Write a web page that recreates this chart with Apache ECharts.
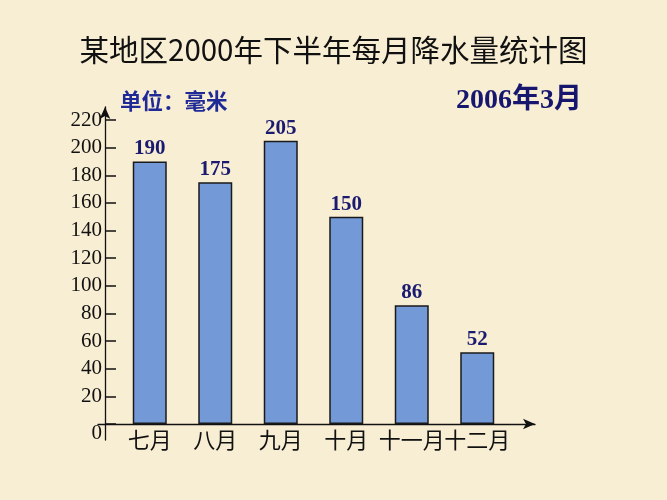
<!DOCTYPE html>
<html>
<head>
<meta charset="utf-8">
<script src="https://cdn.jsdelivr.net/npm/echarts@6/dist/echarts.min.js"></script>
<style>
html,body{margin:0;padding:0;background:#f8eed4;}
#c{width:667px;height:500px;}
</style>
</head>
<body>
<div id="c"></div>
<script>
const titleText = '某地区2000年下半年每月降水量统计图';
const unitText = '单位：毫米';
const dateText = '2006年3月';
const months = ['七月', '八月', '九月', '十月', '十一月', '十二月'];
const rainfall = [190, 175, 205, 150, 86, 52];
const yMin = 0, yMax = 220, yStep = 20;

const chart = echarts.init(document.getElementById('c'));
chart.setOption({
  backgroundColor: '#f8eed4',
  animation: false,
  title: [
    { text: titleText, left: 'center', top: 30,
      textStyle: { fontFamily: 'Noto Sans CJK SC', fontWeight: 'normal', fontSize: 29.5, color: '#111' } },
    { text: unitText, left: 115, top: 85,
      textStyle: { fontFamily: 'Noto Sans CJK SC', fontWeight: 'bold', fontSize: 21.5, color: '#1f2a96' } },
    { text: dateText, left: 451, top: 82,
      textStyle: { fontFamily: 'Liberation Serif, Noto Sans CJK SC', fontWeight: 'bold', fontSize: 28, color: '#16166e' } }
  ],
  grid: [
    { left: 117, right: 157, top: 120, bottom: 76 },
    { left: 98, right: 132, top: 107, bottom: 60 }
  ],
  xAxis: [
    { type: 'category', gridIndex: 0, data: months,
      axisLine: { show: false }, axisTick: { show: false },
      axisLabel: { interval: 0, margin: 5, fontFamily: 'Noto Sans CJK SC', fontSize: 22, color: '#111' } },
    { type: 'value', gridIndex: 1, min: 0, max: 1, offset: -16,
      axisLine: { show: true, symbol: ['none', 'arrow'], symbolSize: [8, 12], lineStyle: { color: '#111', width: 1.3 } },
      axisTick: { show: false }, axisLabel: { show: false }, splitLine: { show: false } }
  ],
  yAxis: [
    { type: 'value', gridIndex: 0, min: yMin, max: yMax, interval: yStep, offset: 12,
      axisLine: { show: false },
      axisTick: { show: true, inside: true, length: 11, lineStyle: { color: '#111', width: 1.5 } },
      splitLine: { show: false },
      axisLabel: { margin: 3, fontFamily: 'Liberation Serif', fontSize: 21, color: '#111',
        formatter: function (v) { return v === 0 ? '{z|0}' : String(v); },
        rich: { z: { fontFamily: 'Liberation Serif', fontSize: 21, color: '#111', padding: [18, 0, 0, 0] } } } },
    { type: 'value', gridIndex: 1, min: 0, max: 1, offset: -7,
      axisLine: { show: true, symbol: ['none', 'arrow'], symbolSize: [8, 12], lineStyle: { color: '#111', width: 1.3 } },
      axisTick: { show: false }, axisLabel: { show: false }, splitLine: { show: false } }
  ],
  series: [{
    type: 'bar', xAxisIndex: 0, yAxisIndex: 0, data: rainfall, barWidth: 34,
    itemStyle: { color: '#7399d6', borderColor: '#1a1a1a', borderWidth: 1.5 },
    label: { show: true, position: 'top', distance: 2,
      fontFamily: 'Liberation Serif', fontWeight: 'bold', fontSize: 21, color: '#1a1a70' }
  }]
});
</script>
</body>
</html>
